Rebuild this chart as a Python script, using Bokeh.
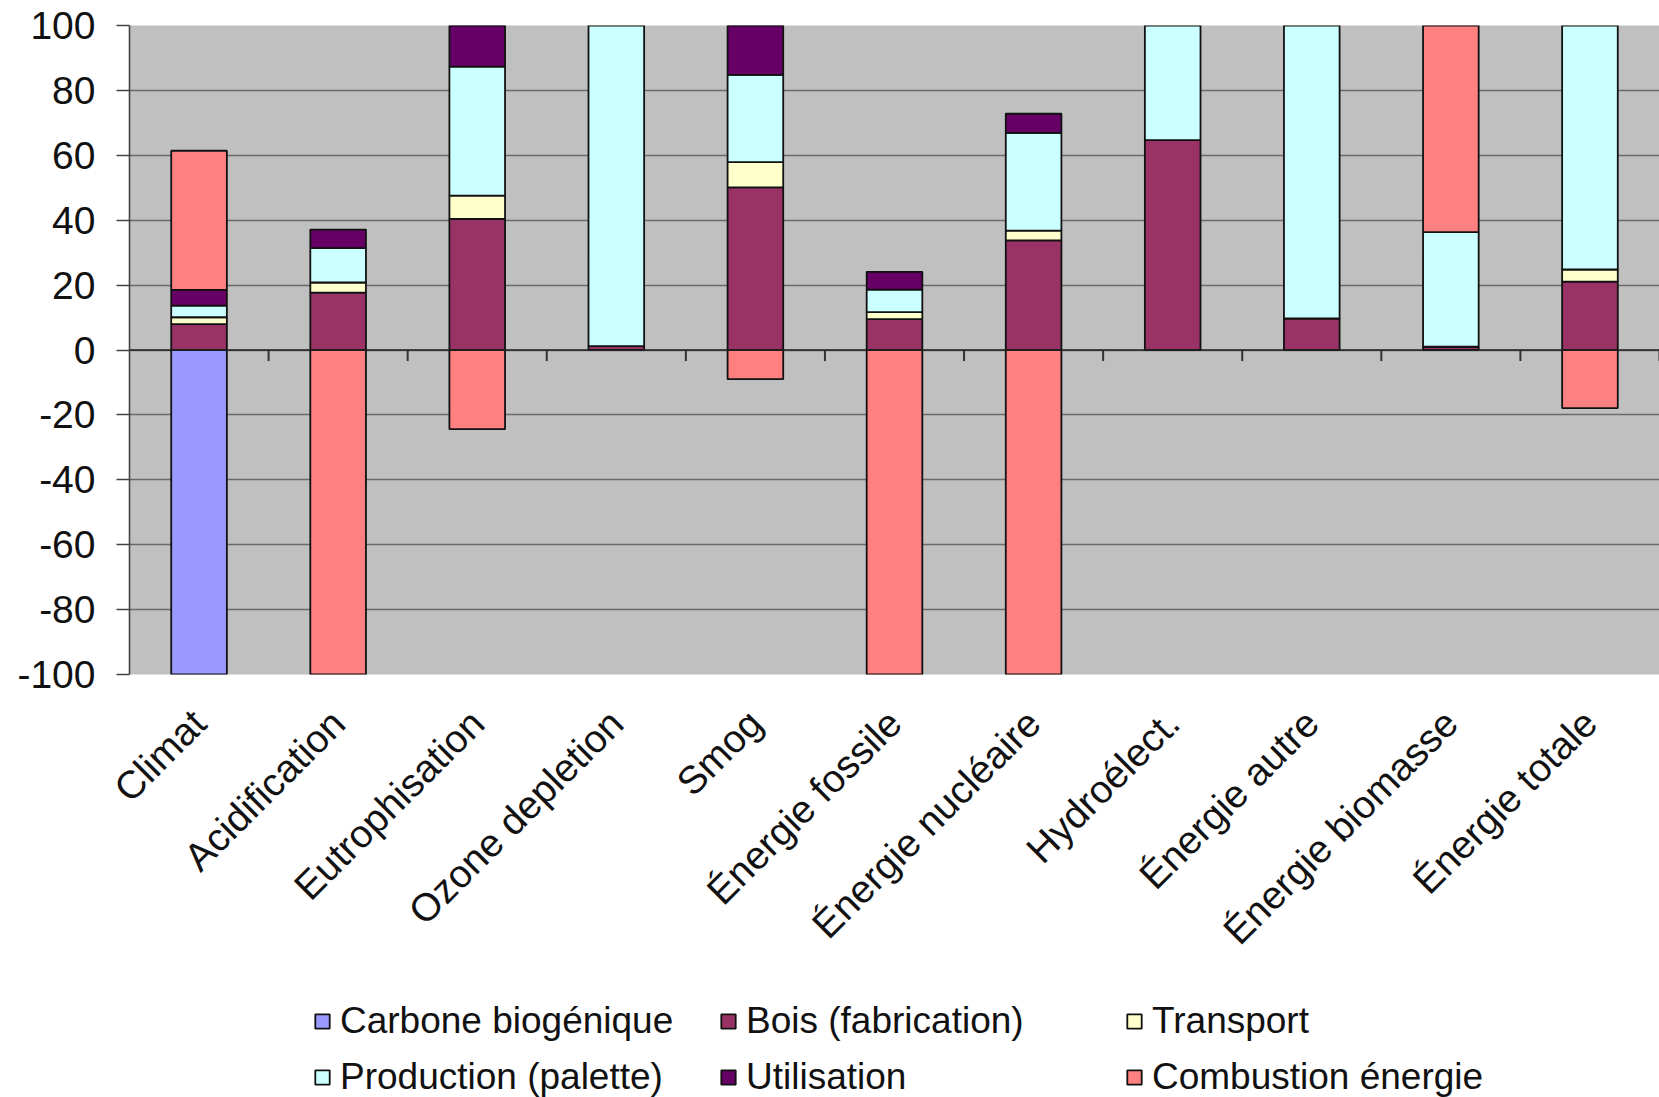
import numpy as np
from math import pi

from bokeh.plotting import figure
from bokeh.layouts import column
from bokeh.models import (ColumnDataSource, FactorRange, Range1d, Legend,
                          LegendItem, FixedTicker, Span, PrintfTickFormatter)
from bokeh.transform import dodge
from bokeh.embed import file_html
from bokeh.resources import INLINE

# Impact categories (x axis)
categories = ["Climat", "Acidification", "Eutrophisation", "Ozone depletion", "Smog",
              "Énergie fossile", "Énergie nucléaire", "Hydroélect.", "Énergie autre",
              "Énergie biomasse", "Énergie totale"]

# Contribution of each life-cycle stage, in %
carbone_biogenique = [-100, 0, 0, 0, 0, 0, 0, 0, 0, 0, 0]
bois_fabrication = [8.0, 17.7, 40.4, 1.2, 50.1, 9.5, 33.8, 64.7, 9.7, 1.0, 21.1]
transport = [2.1, 3.1, 7.2, 0, 7.8, 2.2, 3.0, 0, 0, 0, 3.7]
production_palette = [3.6, 10.6, 39.7, 98.8, 26.9, 6.9, 30.1, 35.3, 90.3, 35.3, 75.2]
utilisation = [4.8, 5.7, 12.7, 0, 15.2, 5.5, 5.9, 0, 0, 0, 0]
combustion_energie = [42.9, -100, -24.4, 0, -9.0, -100, -100, 0, 0, 63.7, -17.9]

series_names = ["Carbone biogénique", "Bois (fabrication)", "Transport",
                "Production (palette)", "Utilisation", "Combustion énergie"]
series_values = [carbone_biogenique, bois_fabrication, transport,
                 production_palette, utilisation, combustion_energie]
series_colors = ["#9999FF", "#993366", "#FFFFCC", "#CCFFFF", "#660066", "#FF8080"]

y_ticks = [-100, -80, -60, -40, -20, 0, 20, 40, 60, 80, 100]

FONT = "Liberation Sans"
FSIZE = "39px"
BAR_STYLE = dict(line_color="#111111", line_width=1.8)

W = 1659
MAIN_H = 980
LEGEND_H = 117

x_range = FactorRange(*categories, range_padding=0)

p = figure(width=W, height=MAIN_H, output_backend="svg", toolbar_location=None,
           x_range=x_range, y_range=Range1d(-100, 100),
           min_border_left=129, min_border_right=0, min_border_top=25,
           min_border_bottom=MAIN_H - 674)
p.background_fill_color = "#C0C0C0"
p.border_fill_color = "white"
p.outline_line_color = None

# legend strip underneath the chart; its renderers are hidden and only
# lend their styling to the legend entries
leg = figure(width=W, height=LEGEND_H, output_backend="svg", toolbar_location=None,
             x_range=x_range, y_range=Range1d(-100, 100),
             x_axis_location=None, y_axis_location=None,
             min_border_left=129, min_border_right=0, min_border_top=0,
             min_border_bottom=0, outline_line_color=None)
leg.grid.visible = False

# stacked bars: positives grow upward from 0, negatives downward
n = len(categories)
pos = np.zeros(n)
neg = np.zeros(n)
items = []
for name, vals, color in zip(series_names, series_values, series_colors):
    v = np.array(vals, dtype=float)
    bottom = np.where(v >= 0, pos, neg)
    top = bottom + v
    pos = np.where(v >= 0, top, pos)
    neg = np.where(v < 0, top, neg)
    mask = v != 0
    src = ColumnDataSource(dict(
        cat=[c for c, m in zip(categories, mask) if m],
        bottom=bottom[mask], top=top[mask]))
    p.vbar(x="cat", bottom="bottom", top="top", width=0.4, source=src,
           fill_color=color, **BAR_STYLE)
    r = leg.vbar(x="cat", bottom="bottom", top="top", width=0.4, source=src,
                 fill_color=color, visible=False, **BAR_STYLE)
    items.append(LegendItem(label=name, renderers=[r]))

# zero line with small ticks between categories
p.add_layout(Span(location=0, dimension="width", line_color="#222222", line_width=1.5))
tick_src = ColumnDataSource(dict(cat=categories))
p.segment(x0=dodge("cat", 0.5, range=p.x_range), x1=dodge("cat", 0.5, range=p.x_range),
          y0=0, y1=-3.4, source=tick_src, line_color="#333333", line_width=2)

# y axis
p.yaxis.ticker = FixedTicker(ticks=y_ticks)
p.yaxis.formatter = PrintfTickFormatter(format="%d")
p.ygrid.ticker = FixedTicker(ticks=y_ticks)
p.ygrid.grid_line_color = "#6a6a6a"
p.ygrid.grid_line_width = 1.6
p.xgrid.grid_line_color = None
p.yaxis.axis_line_color = "#444444"
p.yaxis.axis_line_width = 1.6
p.yaxis.major_tick_line_color = "#444444"
p.yaxis.major_tick_line_width = 1.6
p.yaxis.major_tick_out = 13
p.yaxis.major_tick_in = 0
p.yaxis.minor_tick_line_color = None
p.yaxis.major_label_standoff = 21
p.yaxis.major_label_text_font = FONT
p.yaxis.major_label_text_font_size = FSIZE
p.yaxis.major_label_text_color = "#111111"

# x axis: rotated category names
p.xaxis.axis_line_color = None
p.xaxis.major_tick_line_color = None
p.xaxis.major_label_orientation = pi / 4
p.xaxis.major_label_standoff = 36
p.xaxis.major_label_text_font = FONT
p.xaxis.major_label_text_font_size = FSIZE
p.xaxis.major_label_text_color = "#111111"

legend = Legend(
    items=items, orientation="horizontal", ncols=3,
    location=(184, -1),
    glyph_width=18, glyph_height=18, label_standoff=9,
    label_width=365, label_height=36, spacing=14, padding=0, margin=0,
    label_text_font=FONT, label_text_font_size="37px", label_text_color="#111111",
    inactive_fill_alpha=0,
    border_line_color=None, background_fill_alpha=0)
leg.add_layout(legend, "center")

layout = column(p, leg, spacing=0)
open("out.html", "w").write(file_html(layout, INLINE))
